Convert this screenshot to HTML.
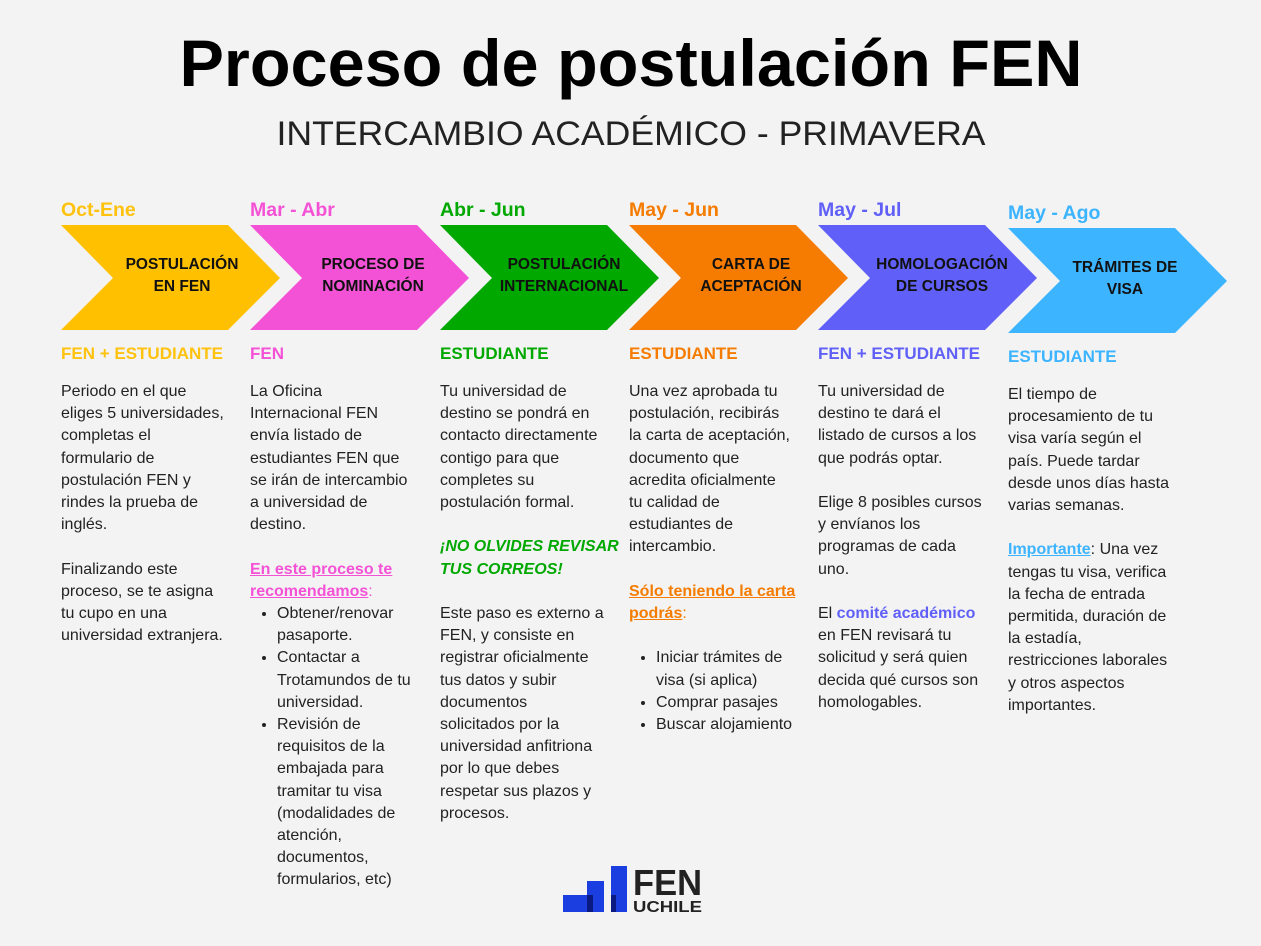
<!DOCTYPE html>
<html><head><meta charset="utf-8"><style>
body{margin:0;width:1261px;height:946px;background:#f3f3f3;position:relative;overflow:hidden;font-family:"Liberation Sans",sans-serif;color:#222}
.a{position:absolute;white-space:nowrap}
.d{font-size:19.5px;font-weight:bold}
.r{font-size:17px;font-weight:bold}
.b{font-size:16px;line-height:22.2px}
.c{font-size:15.5px;font-weight:bold;text-align:center;line-height:22px;color:#111}
ul{margin:0;padding:0 0 0 27px}
li{margin:0}
</style></head><body>
<svg class="a" style="left:0;top:0" width="1261" height="946">
<text x="631" y="86" text-anchor="middle" font-family="Liberation Sans" font-weight="bold" font-size="66" textLength="903" lengthAdjust="spacingAndGlyphs" fill="#000">Proceso de postulación FEN</text>
<text x="631" y="145" text-anchor="middle" font-family="Liberation Sans" font-size="34" textLength="709" lengthAdjust="spacingAndGlyphs" fill="#222">INTERCAMBIO ACADÉMICO - PRIMAVERA</text>
<polygon points="61,225 228,225 280,278 228,330 61,330 113,278" fill="#ffc000"/>
<polygon points="250,225 417,225 469,278 417,330 250,330 302,278" fill="#f452d6"/>
<polygon points="440,225 607,225 659,278 607,330 440,330 492,278" fill="#00a800"/>
<polygon points="629,225 796,225 848,278 796,330 629,330 681,278" fill="#f57c00"/>
<polygon points="818,225 985,225 1037,278 985,330 818,330 870,278" fill="#6060f8"/>
<polygon points="1008,228 1175,228 1227,281 1175,333 1008,333 1060,281" fill="#3cb4ff"/>
<rect x="563" y="895" width="26" height="17" fill="#1a3ee0"/>
<rect x="587" y="881" width="17" height="31" fill="#1a3ee0"/>
<rect x="611" y="866" width="16" height="46" fill="#1a3ee0"/>
<rect x="587" y="895" width="6" height="17" fill="#0a1a80"/>
<rect x="611" y="895" width="5" height="17" fill="#0a1a80"/>
<text x="633" y="895" font-family="Liberation Sans" font-weight="bold" font-size="36" textLength="69" lengthAdjust="spacingAndGlyphs" fill="#222">FEN</text>
<text x="633" y="912" font-family="Liberation Sans" font-weight="bold" font-size="16" textLength="69" lengthAdjust="spacingAndGlyphs" fill="#222">UCHILE</text>
</svg>

<div class="a c" style="left:120px;top:254px;width:124px">POSTULACIÓN<br>EN FEN</div>
<div class="a c" style="left:309px;top:254px;width:128px">PROCESO DE<br>NOMINACIÓN</div>
<div class="a c" style="left:488px;top:254px;width:152px">POSTULACIÓN<br>INTERNACIONAL</div>
<div class="a c" style="left:688px;top:254px;width:126px">CARTA DE<br>ACEPTACIÓN</div>
<div class="a c" style="left:866px;top:254px;width:152px">HOMOLOGACIÓN<br>DE CURSOS</div>
<div class="a c" style="left:1058px;top:257px;width:134px">TRÁMITES DE<br>VISA</div>

<div class="a d" style="left:61px;top:199px;color:#ffc20e">Oct-Ene</div>
<div class="a d" style="left:250px;top:199px;color:#f452d6">Mar - Abr</div>
<div class="a d" style="left:440px;top:199px;color:#00a800">Abr - Jun</div>
<div class="a d" style="left:629px;top:199px;color:#f57c00">May - Jun</div>
<div class="a d" style="left:818px;top:199px;color:#6060f8">May - Jul</div>
<div class="a d" style="left:1008px;top:202px;color:#3cb4ff">May - Ago</div>

<div class="a r" style="left:61px;top:344px;color:#ffc20e">FEN + ESTUDIANTE</div>
<div class="a r" style="left:250px;top:344px;color:#f452d6">FEN</div>
<div class="a r" style="left:440px;top:344px;color:#00a800">ESTUDIANTE</div>
<div class="a r" style="left:629px;top:344px;color:#f57c00">ESTUDIANTE</div>
<div class="a r" style="left:818px;top:344px;color:#6060f8">FEN + ESTUDIANTE</div>
<div class="a r" style="left:1008px;top:347px;color:#3cb4ff">ESTUDIANTE</div>

<div class="a b" style="left:61px;top:381px">Periodo en el que<br>eliges 5 universidades,<br>completas el<br>formulario de<br>postulación FEN y<br>rindes la prueba de<br>inglés.<br><br>Finalizando este<br>proceso, se te asigna<br>tu cupo en una<br>universidad extranjera.</div>

<div class="a b" style="left:250px;top:381px">La Oficina<br>Internacional FEN<br>envía listado de<br>estudiantes FEN que<br>se irán de intercambio<br>a universidad de<br>destino.<br><br><b style="color:#f452d6;text-decoration:underline">En este proceso te<br>recomendamos</b><span style="color:#f452d6">:</span>
<ul><li>Obtener/renovar<br>pasaporte.</li><li>Contactar a<br>Trotamundos de tu<br>universidad.</li><li>Revisión de<br>requisitos de la<br>embajada para<br>tramitar tu visa<br>(modalidades de<br>atención,<br>documentos,<br>formularios, etc)</li></ul></div>

<div class="a b" style="left:440px;top:381px">Tu universidad de<br>destino se pondrá en<br>contacto directamente<br>contigo para que<br>completes su<br>postulación formal.<br><br><b style="color:#00a800;font-style:italic">¡NO OLVIDES REVISAR<br>TUS CORREOS!</b><br><br>Este paso es externo a<br>FEN, y consiste en<br>registrar oficialmente<br>tus datos y subir<br>documentos<br>solicitados por la<br>universidad anfitriona<br>por lo que debes<br>respetar sus plazos y<br>procesos.</div>

<div class="a b" style="left:629px;top:381px">Una vez aprobada tu<br>postulación, recibirás<br>la carta de aceptación,<br>documento que<br>acredita oficialmente<br>tu calidad de<br>estudiantes de<br>intercambio.<br><br><b style="color:#f57c00;text-decoration:underline">Sólo teniendo la carta<br>podrás</b><span style="color:#f57c00">:</span><br><br>
<ul><li>Iniciar trámites de<br>visa (si aplica)</li><li>Comprar pasajes</li><li>Buscar alojamiento</li></ul></div>

<div class="a b" style="left:818px;top:381px">Tu universidad de<br>destino te dará el<br>listado de cursos a los<br>que podrás optar.<br><br>Elige 8 posibles cursos<br>y envíanos los<br>programas de cada<br>uno.<br><br>El <b style="color:#6060f8">comité académico</b><br>en FEN revisará tu<br>solicitud y será quien<br>decida qué cursos son<br>homologables.</div>

<div class="a b" style="left:1008px;top:384px">El tiempo de<br>procesamiento de tu<br>visa varía según el<br>país. Puede tardar<br>desde unos días hasta<br>varias semanas.<br><br><b style="color:#3cb4ff;text-decoration:underline">Importante</b>: Una vez<br>tengas tu visa, verifica<br>la fecha de entrada<br>permitida, duración de<br>la estadía,<br>restricciones laborales<br>y otros aspectos<br>importantes.</div>
</body></html>
